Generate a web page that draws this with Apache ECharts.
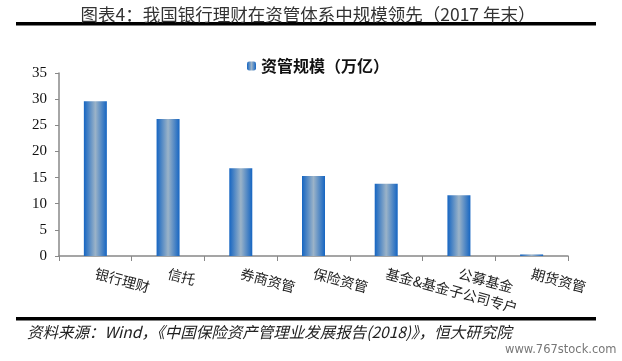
<!DOCTYPE html>
<html>
<head>
<meta charset="utf-8">
<script src="https://cdn.jsdelivr.net/npm/echarts@6/dist/echarts.min.js"></script>
<style>html,body{margin:0;padding:0;background:#fff;}#c{width:622px;height:361px;}</style>
</head>
<body>
<div id="c"></div>
<script>
const categories = ['银行理财', '信托', '券商资管', '保险资管', '基金&基金子公司专户', '公募基金', '期货资管'];
const values = [29.6, 26.2, 16.8, 15.3, 13.8, 11.6, 0.3];
const yTicks = [0, 5, 10, 15, 20, 25, 30, 35];
const seriesName = '资管规模（万亿）';
const titleText = '图表4：我国银行理财在资管体系中规模领先（2017 年末）';
const sourceText = '资料来源：Wind，《中国保险资产管理业发展报告(2018)》，恒大研究院';
const watermark = 'www.767stock.com';

const chart = echarts.init(document.getElementById('c'), null, {renderer: 'canvas'});
const barGrad = new echarts.graphic.LinearGradient(0, 0, 1, 0, [
  {offset: 0, color: '#1565c2'},
  {offset: 0.5, color: '#9bb3c8'},
  {offset: 1, color: '#1565c2'}
]);
chart.setOption({
  animation: false,
  backgroundColor: '#fff',
  title: {
    text: titleText,
    left: 303, top: 1, textAlign: 'center',
    textStyle: {fontFamily: 'Noto Sans CJK SC', fontSize: 17.5, fontWeight: 'normal', color: '#333'}
  },
  legend: {
    data: [seriesName],
    left: 242, top: 53,
    itemWidth: 9, itemHeight: 9, itemGap: 4,
    textStyle: {fontFamily: 'Noto Sans CJK SC', fontSize: 16, fontWeight: 'bold', color: '#111'}
  },
  grid: {left: 59, right: 54, top: 73, bottom: 105, containLabel: false},
  xAxis: {
    type: 'category',
    data: categories,
    axisLine: {lineStyle: {color: '#888', width: 1.5}},
    axisTick: {show: true, length: 5, lineStyle: {color: '#888'}},
    axisLabel: {
      interval: 0, rotate: -15, margin: 17,
      fontFamily: 'Noto Sans CJK SC', fontSize: 14, color: '#222'
    }
  },
  yAxis: {
    type: 'value',
    min: 0, max: 35, interval: 5,
    axisLine: {show: true, lineStyle: {color: '#888', width: 1.5}},
    axisTick: {show: true, length: 4, lineStyle: {color: '#888'}},
    splitLine: {show: false},
    axisLabel: {
      margin: 12,
      fontFamily: 'Liberation Serif', fontSize: 15, color: '#111',
      formatter: v => yTicks.includes(v) ? String(v) : ''
    }
  },
  series: [{
    name: seriesName,
    type: 'bar',
    data: values,
    barWidth: 23,
    itemStyle: {color: barGrad}
  }],
  graphic: [
    {type: 'rect', shape: {x: 16, y: 22, width: 580, height: 3.5}, style: {fill: '#000'}},
    {type: 'rect', shape: {x: 16, y: 317, width: 580, height: 3.5}, style: {fill: '#000'}},
    {type: 'text', left: 27, top: 324, style: {text: sourceText, font: 'italic 15.5px "Noto Sans CJK SC"', fill: '#222'}},
    {type: 'text', left: 505, top: 344, style: {text: watermark, font: '11.5px "DejaVu Sans"', fill: '#777'}}
  ]
});
</script>
</body>
</html>
